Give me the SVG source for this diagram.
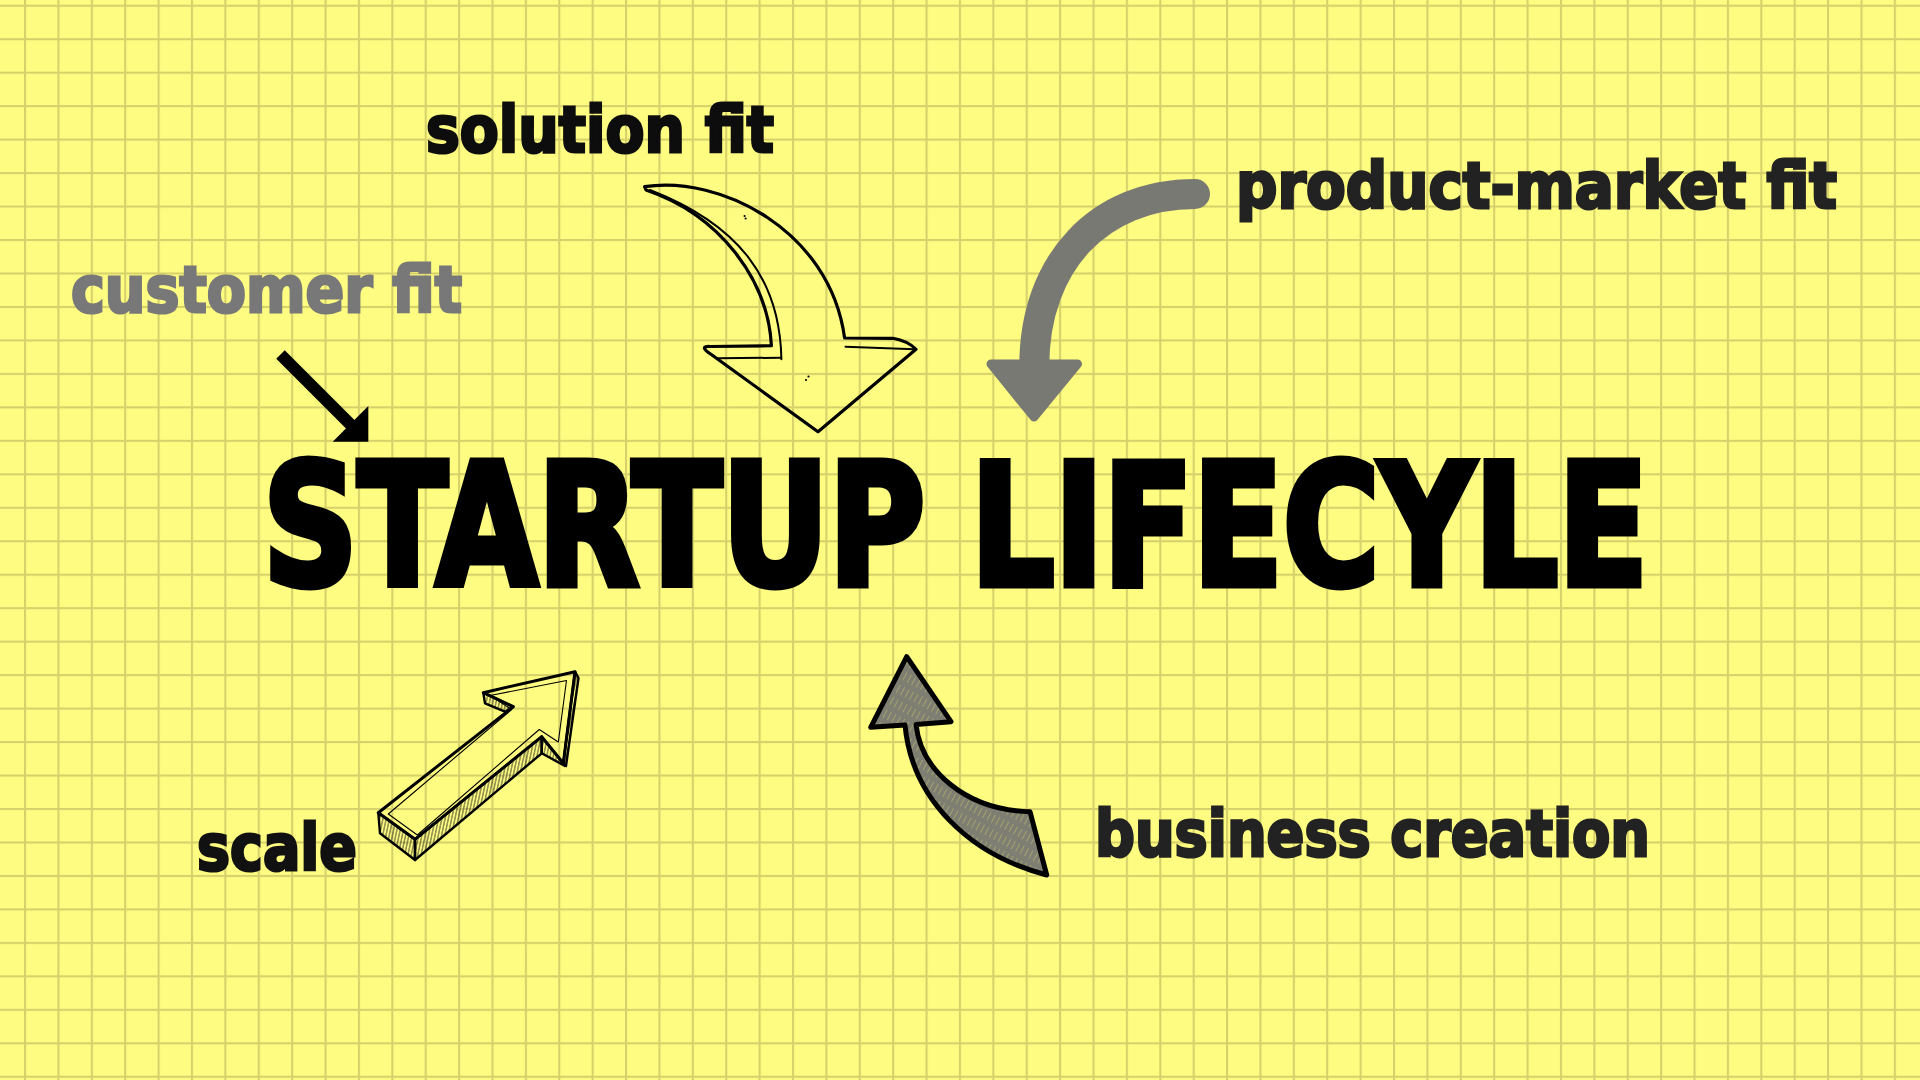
<svg xmlns="http://www.w3.org/2000/svg" width="1920" height="1080" viewBox="0 0 1920 1080">
  <defs>
    <pattern id="grid" patternUnits="userSpaceOnUse" x="24" y="4.7" width="33.39" height="33.47">
      <rect x="0" y="0" width="2.1" height="33.47" fill="#d6d16b"/>
      <rect x="0" y="0" width="33.39" height="2.1" fill="#d6d16b"/>
    </pattern>
    <pattern id="hatch" patternUnits="userSpaceOnUse" width="3.2" height="10" patternTransform="rotate(12)">
      <line x1="0.8" y1="0" x2="0.8" y2="10" stroke="#111" stroke-width="0.8"/>
    </pattern>
    <pattern id="greyhatch" patternUnits="userSpaceOnUse" width="5" height="14" patternTransform="rotate(28)">
      <rect x="0" y="0" width="5" height="14" fill="#7e7e72"/>
      <line x1="1.5" y1="0" x2="1.5" y2="9" stroke="#b4b26a" stroke-width="0.9" opacity="0.75"/>
    </pattern>
    <style>
      .lbl { font-family: "DejaVu Sans", "Liberation Sans", sans-serif; font-weight: bold; font-size: 64px; stroke-width: 3px; stroke-linejoin: miter; }
      .title { font-family: "Liberation Sans Narrow", "DejaVu Sans Condensed", "Liberation Sans", sans-serif; font-weight: bold; font-size: 169px; fill: #000; stroke: #000; stroke-width: 7px; stroke-linejoin: miter; }
      .sketch { fill: none; stroke: #000; stroke-linejoin: round; stroke-linecap: round; }
    </style>
  </defs>

  <rect x="0" y="0" width="1920" height="1080" fill="#fefd82"/>
  <rect x="0" y="0" width="1920" height="1080" fill="url(#grid)"/>

  <g id="connectors">
    <g id="arrow-customer">
      <line x1="280.5" y1="354.5" x2="354" y2="428" stroke="#000" stroke-width="12"/>
      <polygon points="368.3,406 368.3,441.7 332.7,441.7" fill="#000"/>
    </g>

    <g id="arrow-solution" class="sketch">
      <path d="M 644.6,186.7 C 720,175 830,230 844.6,338 L 893,338.3 Q 908,341 916,349.3 L 818,431.7 L 712,355 Q 698,346 710,346.5 L 771.4,345.7 C 768,280 720,215 646,190 Z" stroke-width="3.2"/>
      <path d="M 650,190 C 740,225 780,280 781.4,359.3" stroke-width="2"/>
      <path d="M 717.9,358.3 L 780.4,357.7" stroke-width="2"/>
      <path d="M 845.5,346.7 L 914.3,349.3" stroke-width="2"/>
      <circle cx="744.6" cy="216" r="1.1" fill="#000" stroke="none"/>
      <circle cx="745.6" cy="218.5" r="1.1" fill="#000" stroke="none"/>
      <circle cx="806" cy="380" r="1.1" fill="#000" stroke="none"/>
      <circle cx="808.5" cy="376.5" r="1.1" fill="#000" stroke="none"/>
    </g>

    <g id="arrow-product">
      <path d="M 1195,194 C 1100,194 1034.3,262 1034.3,366" fill="none" stroke="#797973" stroke-width="30" stroke-linecap="round"/>
      <polygon points="991,364 1077.5,364 1034,417" fill="#797973" stroke="#797973" stroke-width="9" stroke-linejoin="round"/>
    </g>

    <g id="arrow-scale">
      <polygon points="378.3,812.7 380,833.3 415,860 415,839.3" fill="url(#hatch)" stroke="#000" stroke-width="2.4" stroke-linejoin="round"/>
      <polygon points="415,839.3 415,860 541.7,753.3 541.7,736.7" fill="url(#hatch)" stroke="#000" stroke-width="2.4" stroke-linejoin="round"/>
      <polygon points="541.7,736.7 541.7,753.3 565,766 563.3,763.3" fill="url(#hatch)" stroke="#000" stroke-width="2.4" stroke-linejoin="round"/>
      <polygon points="575,671.7 578.5,678 566,766 563.3,763.3" fill="url(#hatch)" stroke="#000" stroke-width="2.4" stroke-linejoin="round"/>
      <polygon points="483.3,692.7 485,703.3 505,711.7 513.3,706.7" fill="url(#hatch)" stroke="#000" stroke-width="2.4" stroke-linejoin="round"/>
      <polygon class="sketch" points="378.3,812.7 415,839.3 541.7,736.7 563.3,763.3 575,671.7 483.3,692.7 513.3,706.7" stroke-width="3"/>
      <polyline class="sketch" points="511.7,709.5 490,695.5 566.5,680.5 558.3,742 539.3,729.5 417.3,835 388.3,814 511.7,709.5" stroke-width="1.1"/>
    </g>

    <g id="arrow-business">
      <path d="M 906.7,656.7 L 951,721.7 L 916,724.5 C 921,770 965,810 1030,811.7 L 1046.7,875 C 970,855 912,800 905,725 L 870.7,727.3 Z" fill="url(#greyhatch)" stroke="#000" stroke-width="5" stroke-linejoin="round"/>
    </g>
  </g>

  <g id="node-title">
    <text class="title" x="263" y="585" textLength="1385" lengthAdjust="spacingAndGlyphs">STARTUP LIFECYLE</text>
  </g>
  <g id="node-solution-fit">
    <text class="lbl" x="426" y="152" fill="#0d0d0d" stroke="#0d0d0d" textLength="348" lengthAdjust="spacingAndGlyphs">solution fit</text>
  </g>
  <g id="node-customer-fit">
    <text class="lbl" x="71" y="312" fill="#787878" stroke="#787878" textLength="391" lengthAdjust="spacingAndGlyphs">customer fit</text>
  </g>
  <g id="node-product-market-fit">
    <text class="lbl" x="1236" y="208" fill="#222" stroke="#222" textLength="601" lengthAdjust="spacingAndGlyphs">product-market fit</text>
  </g>
  <g id="node-scale">
    <text class="lbl" x="197" y="870" fill="#111" stroke="#111" textLength="160" lengthAdjust="spacingAndGlyphs">scale</text>
  </g>
  <g id="node-business-creation">
    <text class="lbl" x="1095" y="856" fill="#222" stroke="#222" textLength="555" lengthAdjust="spacingAndGlyphs">business creation</text>
  </g>
</svg>
